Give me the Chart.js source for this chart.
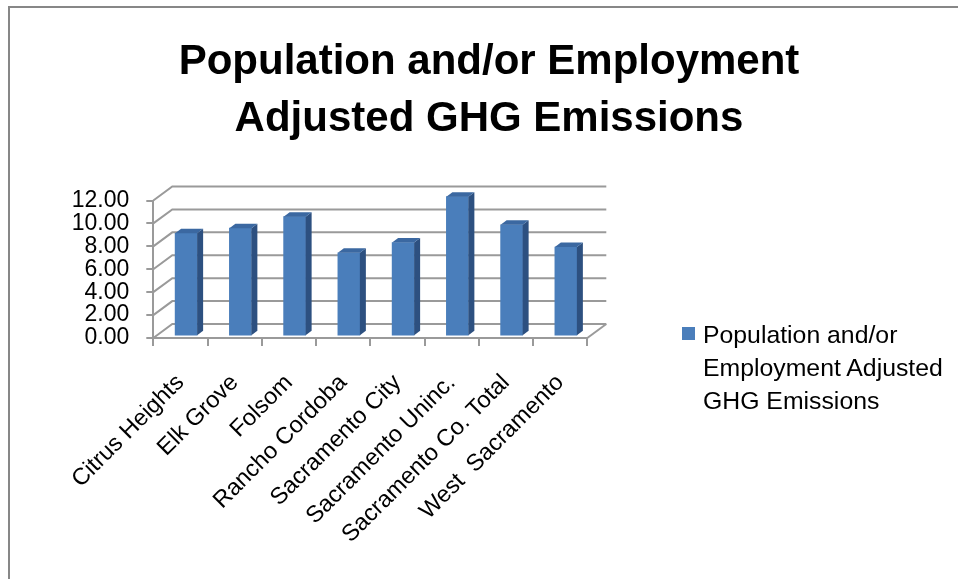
<!DOCTYPE html>
<html>
<head>
<meta charset="utf-8">
<script src="https://cdn.jsdelivr.net/npm/chart.js@4.4.1/dist/chart.umd.min.js"></script>
<style>
  html, body { margin: 0; padding: 0; background: #ffffff; width: 958px; height: 579px; overflow: hidden; }
  #frame { position: absolute; left: 8px; top: 6px; width: 2000px; height: 2000px;
           border-left: 2px solid #878787; border-top: 2px solid #878787; }
  #c { position: absolute; left: 0; top: 0; }
  #legend { position: absolute; left: 682px; top: 318px; font-family: 'Liberation Sans', Arial, sans-serif;
            font-size: 24.8px; line-height: 33px; color: #000; }
  #legend .box { position: absolute; left: 0; top: 9px; width: 13px; height: 13px; }
  #legend .txt { position: absolute; left: 21px; top: 0; white-space: pre; }
</style>
</head>
<body>
<div id="frame"></div>
<canvas id="c" width="958" height="579"></canvas>
<div id="legend"></div>
<script>
// ---------------- data ----------------
const categories = ['Citrus Heights', 'Elk Grove', 'Folsom', 'Rancho Cordoba', 'Sacramento City',
                    'Sacramento Uninc.', 'Sacramento Co. Total', 'West  Sacramento'];
const values = [8.90, 9.35, 10.35, 7.20, 8.10, 12.10, 9.65, 7.70];
const yTickValues = [0, 2, 4, 6, 8, 10, 12];
const titleLines = ['Population and/or Employment', 'Adjusted GHG Emissions'];
const seriesLabelLines = ['Population and/or', 'Employment Adjusted', 'GHG Emissions'];

// ---------------- styles ----------------
const FONT = "'Liberation Sans', Arial, sans-serif";
const GRID = '#9a9a9a';
const FRONT = '#4a7ebb';
const SIDE = '#2d5080';
const TOP = '#3b68a1';
const WALL_DX = 19, WALL_DY = -14;     // depth of the 3D box
const BAR_DX = 6, BAR_DY = -4.5;       // depth of each bar
const BAR_SHIFT = 0.105;               // bars sit a little behind the front plane (category units)
const BAR_LIFT = 0.237;                // same, in value units

const threeD = {
  id: 'threeD',
  beforeDatasetsDraw(chart) {
    const { ctx, chartArea: a, scales: { y } } = chart;
    ctx.save();
    ctx.strokeStyle = GRID;
    ctx.lineWidth = 2;
    const y0 = y.getPixelForValue(yTickValues[0]);
    ctx.beginPath();
    ctx.moveTo(a.right, y0);
    ctx.lineTo(a.right + WALL_DX, y0 + WALL_DY);
    ctx.stroke();
    yTickValues.forEach(v => {
      const py = y.getPixelForValue(v);
      ctx.beginPath();
      ctx.moveTo(a.left, py);
      ctx.lineTo(a.left + WALL_DX, py + WALL_DY);
      ctx.lineTo(a.right + WALL_DX, py + WALL_DY);
      ctx.stroke();
    });
    ctx.restore();
  },
  afterDatasetsDraw(chart) {
    const { ctx } = chart;
    const meta = chart.getDatasetMeta(0);
    ctx.save();
    meta.data.forEach(bar => {
      const { x, y, base, width } = bar.getProps(['x', 'y', 'base', 'width'], true);
      const l = x - width / 2, r = x + width / 2;
      ctx.fillStyle = SIDE;
      ctx.beginPath();
      ctx.moveTo(r, y); ctx.lineTo(r + BAR_DX, y + BAR_DY);
      ctx.lineTo(r + BAR_DX, base + BAR_DY); ctx.lineTo(r, base);
      ctx.closePath(); ctx.fill();
      ctx.fillStyle = TOP;
      ctx.beginPath();
      ctx.moveTo(l, y); ctx.lineTo(l + BAR_DX, y + BAR_DY);
      ctx.lineTo(r + BAR_DX, y + BAR_DY); ctx.lineTo(r, y);
      ctx.closePath(); ctx.fill();
    });
    ctx.restore();
  }
};

const yMin = yTickValues[0], yMax = yTickValues[yTickValues.length - 1];

const chart = new Chart(document.getElementById('c'), {
  type: 'bar',
  data: {
    labels: categories,
    datasets: [{
      label: seriesLabelLines.join(' '),
      data: values.map((v, i) => ({ x: i, y: v })),
      xAxisID: 'xb',
      yAxisID: 'yb',
      backgroundColor: FRONT,
      borderWidth: 0,
      barThickness: 22,
      clip: false
    }]
  },
  options: {
    responsive: false,
    animation: false,
    devicePixelRatio: 1,
    layout: { padding: { left: 20, right: 0, top: 14, bottom: 0 } },
    plugins: {
      legend: { display: false },
      tooltip: { enabled: false },
      title: {
        display: true,
        text: titleLines,
        color: '#000',
        font: { family: FONT, size: 42, weight: 'bold', lineHeight: 57 / 42 },
        padding: { top: 20, bottom: 52.5 }
      }
    },
    scales: {
      x: {
        type: 'category',
        position: 'bottom',
        offset: true,
        grid: { display: true, drawOnChartArea: false, offset: true, tickLength: 8, color: GRID, lineWidth: 2 },
        border: { display: true, color: GRID, width: 2 },
        ticks: { color: '#000', font: { family: FONT, size: 23.5 }, minRotation: 45, maxRotation: 45,
                 autoSkip: false, padding: 23 },
        afterFit: s => { s.height = 241; }
      },
      y: {
        type: 'linear',
        position: 'left',
        min: yMin, max: yMax,
        afterBuildTicks: s => { s.ticks = yTickValues.map(v => ({ value: v })); },
        grid: { display: true, drawOnChartArea: false, tickLength: 7, color: GRID, lineWidth: 2 },
        border: { display: true, color: GRID, width: 2 },
        ticks: { color: '#000', font: { family: FONT, size: 23 }, padding: 17, autoSkip: false,
                 callback: v => Number(v).toFixed(2) },
        afterFit: s => { s.width = 133.3; }
      },
      xb: {
        type: 'linear',
        display: false,
        offset: false,
        min: -0.5 - BAR_SHIFT,
        max: categories.length - 0.5 - BAR_SHIFT
      },
      yb: {
        type: 'linear',
        position: 'right',
        display: true,
        min: yMin - BAR_LIFT,
        max: yMax - BAR_LIFT,
        grid: { display: false },
        border: { display: false },
        ticks: { display: false },
        afterFit: s => { s.width = 370.7; }
      }
    }
  },
  plugins: [threeD]
});

// HTML legend built from the dataset
const legend = document.getElementById('legend');
const ds = chart.data.datasets[0];
const box = document.createElement('div');
box.className = 'box';
box.style.background = ds.backgroundColor;
legend.appendChild(box);
const txt = document.createElement('div');
txt.className = 'txt';
txt.textContent = seriesLabelLines.join('\n');
legend.appendChild(txt);
</script>
</body>
</html>
